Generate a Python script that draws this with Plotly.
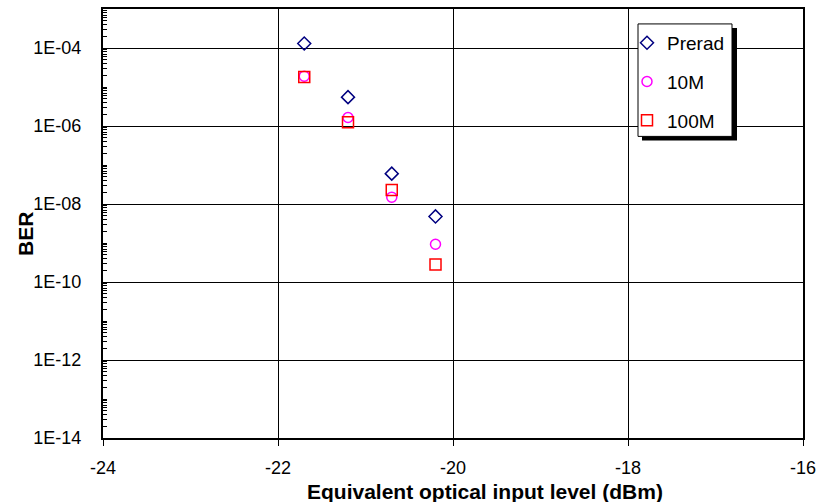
import plotly.graph_objects as go

# Input level (dBm) for each measurement
input_level = [-21.7, -21.2, -20.7, -20.2]

# Bit error rate per irradiation condition
ber_prerad = [1.3e-4, 5.5e-6, 6.0e-8, 4.8e-9]
ber_10m = [1.9e-5, 1.65e-6, 1.5e-8, 9.3e-10]
ber_100m = [1.8e-5, 1.25e-6, 2.3e-8, 2.8e-10]

x_ticks = [-24, -22, -20, -18, -16]
y_tick_vals = [1e-14, 1e-12, 1e-10, 1e-8, 1e-6, 1e-4]
y_tick_text = ["1E-14", "1E-12", "1E-10", "1E-08", "1E-06", "1E-04"]

FONT = "Liberation Sans, Arial, sans-serif"

fig = go.Figure()

series = [
    ("Prerad", ber_prerad, "diamond-open", "#000080", 10),
    ("10M", ber_10m, "circle-open", "#FF00FF", 10),
    ("100M", ber_100m, "square-open", "#FF0000", 11),
]
for i, (name, ys, sym, col, sz) in enumerate(series):
    fig.add_trace(go.Scatter(
        x=input_level, y=ys, mode="markers", name=name,
        legendgroup=f"g{i}",
        marker=dict(symbol=sym, color=col, size=sz, line=dict(color=col, width=1.5)),
    ))

L, R, T, B = 103, 28, 7, 64
W, H = 831, 502
pw, ph = W - L - R, H - T - B

def px_x(p):
    return (p - L) / pw

def px_y(p):
    return (H - B - p) / ph

# Legend frame with drop shadow
fig.add_shape(type="rect", xref="paper", yref="paper",
              x0=px_x(642), x1=px_x(737), y0=px_y(139), y1=px_y(26),
              fillcolor="black", line=dict(width=0), layer="above")
fig.add_shape(type="rect", xref="paper", yref="paper",
              x0=px_x(638), x1=px_x(732), y0=px_y(135), y1=px_y(22),
              fillcolor="white", line=dict(color="black", width=1), layer="above")

fig.update_layout(
    width=W, height=H,
    margin=dict(l=L, r=R, t=T, b=B),
    paper_bgcolor="white", plot_bgcolor="white",
    font=dict(family=FONT, size=18, color="black"),
    showlegend=True,
    legend=dict(
        x=px_x(627), y=px_y(22), xanchor="left", yanchor="top",
        bgcolor="rgba(0,0,0,0)", borderwidth=0,
        font=dict(family=FONT, size=19, color="black"),
        tracegroupgap=11, itemwidth=30,
    ),
    xaxis=dict(
        range=[-24, -16], tickvals=x_ticks, ticktext=[str(v) for v in x_ticks],
        showgrid=True, gridcolor="black", gridwidth=1,
        showline=True, linecolor="black", linewidth=2, mirror=True,
        ticks="outside", ticklen=6, tickcolor="black", tickwidth=1,
        zeroline=False, tickfont=dict(size=18), ticklabelstandoff=6,
    ),
    yaxis=dict(
        type="log", range=[-14, -3],
        tickvals=y_tick_vals, ticktext=y_tick_text,
        showgrid=True, gridcolor="black", gridwidth=1,
        showline=True, linecolor="black", linewidth=2, mirror=True,
        ticks="inside", ticklen=8, tickcolor="black", tickwidth=1,
        minor=dict(ticks="inside", ticklen=4, tickcolor="black", dtick="D1", showgrid=False),
        zeroline=False, tickfont=dict(size=18), ticklabelstandoff=16,
    ),
    annotations=[
        dict(text="<b>Equivalent optical input level (dBm)</b>", xref="paper", yref="paper",
             x=px_x(485), y=px_y(492), xanchor="center", yanchor="middle",
             showarrow=False, font=dict(family=FONT, size=21)),
        dict(text="<b>BER</b>", xref="paper", yref="paper",
             x=px_x(26), y=px_y(233), xanchor="center", yanchor="middle",
             textangle=-90, showarrow=False, font=dict(family=FONT, size=21)),
    ],
)

fig.write_html("out.html")
